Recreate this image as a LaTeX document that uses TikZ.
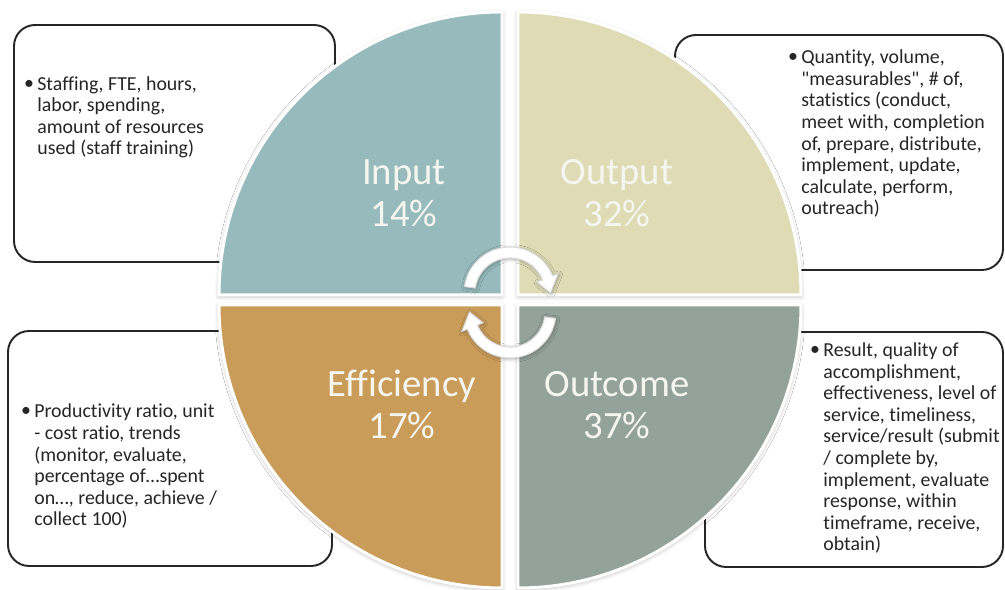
\documentclass[tikz,border=0pt]{standalone}
\usepackage{fontspec}
\setmainfont{Carlito}[Ligatures={TeXOff,NoCommon}]
\usepackage{tikz}
\usetikzlibrary{calc}
\usetikzlibrary{fit}
\usetikzlibrary{shadows.blur}
\definecolor{InputTeal}{HTML}{97BBBD}
\definecolor{OutputSand}{HTML}{DEDBB5}
\definecolor{EfficiencyOchre}{HTML}{C99C5A}
\definecolor{OutcomeSage}{HTML}{93A29A}
\definecolor{LabelWhite}{HTML}{F6F6F1}
\definecolor{TextDark}{HTML}{262626}
\tikzstyle{infobox} = [draw=TextDark, line width=1.1pt, rounded corners=12pt, fill=white, inner sep=0pt]
\tikzstyle{bullettext} = [anchor=base west, align=left, text=TextDark, inner sep=0pt, font=\fontsize{11.3}{12.3}\selectfont]
\tikzstyle{bulletdot} = [anchor=base, text=TextDark, inner sep=0pt, font=\fontsize{11.3}{12.3}\selectfont]
\tikzstyle{quarter} = [draw=white, line width=1.7pt, blur shadow={shadow xshift=0pt, shadow yshift=-0.8pt, shadow blur radius=2.5pt, shadow opacity=30}]
\tikzstyle{quadlabel} = [anchor=base, align=center, text=LabelWhite, inner sep=0pt, font=\fontsize{22}{24.4}\selectfont]
\tikzstyle{turnarrow} = [fill=white, draw=black!15, line width=0.6pt, blur shadow={shadow xshift=0.4pt, shadow yshift=-0.6pt, shadow blur radius=2pt, shadow opacity=35}]

\begin{document}
\begin{tikzpicture}[x=0.02cm, y=0.02cm]
	\useasboundingbox (0,0) rectangle (1005,590);

	% Side boxes, partly hidden behind the disc
	\node[infobox, fit={(14,328) (335,565)}] (inputbox) {};
	\node[infobox, fit={(675,320) (1003,555)}] (outputbox) {};
	\node[infobox, fit={(8,24) (332,259)}] (efficiencybox) {};
	\node[infobox, fit={(705,23) (1003,258)}] (outcomebox) {};

	% Quarter discs: corner / start angle / colour
	\foreach \cx/\cy/\a/\col in {502/295/180/InputTeal, 518/295/90/OutputSand,
	                             518/285/0/OutcomeSage, 502/285/270/EfficiencyOchre}
		\filldraw[quarter, fill=\col] (\cx,\cy) -- ++(\a:283)
			arc[start angle=\a, end angle=\a-90, radius=283] -- cycle;

	% Turning arrows in the middle
	\coordinate (topturn) at (510,297);
	\coordinate (botturn) at (510,278);
	\foreach \c/\s/\e/\t in {topturn/172/22/0, botturn/352/202/180}
		\filldraw[turnarrow] ($(\c)+(\s:46)$) arc[start angle=\s, end angle=\e, radius=46]
			-- ($(\c)+(\e:52)$) -- ($(\c)+(\t:40.5)$) -- ($(\c)+(\e:29)$)
			-- ($(\c)+(\e:35)$) arc[start angle=\e, end angle=\s, radius=35] -- cycle;

	% Quadrant names (base = last line)
	\node[quadlabel] (inputlabel) at (404,363) {Input\\14\%};
	\node[quadlabel] (outputlabel) at (617,363) {Output\\32\%};
	\node[quadlabel] (efficiencylabel) at (402,151) {Efficiency\\17\%};
	\node[quadlabel] (outcomelabel) at (617,151) {Outcome\\37\%};

	% Box texts (base = last line, bullet on the first one)
	\node[bulletdot] (inputdot) at (29,500) {\textbullet};
	\node[bullettext] (inputtext) at (37,435) {Staffing, FTE, hours,\\labor, spending,\\amount of resources\\used (staff training)};

	\node[bulletdot] (outputdot) at (793,527) {\textbullet};
	\node[bullettext] (outputtext) at (801,375) {Quantity, volume,\\"measurables", \# of,\\statistics (conduct,\\meet with, completion\\of, prepare, distribute,\\implement, update,\\calculate, perform,\\outreach)};

	\node[bulletdot] (efficiencydot) at (26,173) {\textbullet};
	\node[bullettext] (efficiencytext) at (34,64) {Productivity ratio, unit\\- cost ratio, trends\\(monitor, evaluate,\\percentage of…spent\\on…, reduce, achieve /\\collect 100)};

	\node[bulletdot] (outcomedot) at (815,234) {\textbullet};
	\node[bullettext] (outcometext) at (823,39) {Result, quality of\\accomplishment,\\effectiveness, level of\\service, timeliness,\\service/result (submit\\/ complete by,\\implement, evaluate\\response, within\\timeframe, receive,\\obtain)};
\end{tikzpicture}
\end{document}
